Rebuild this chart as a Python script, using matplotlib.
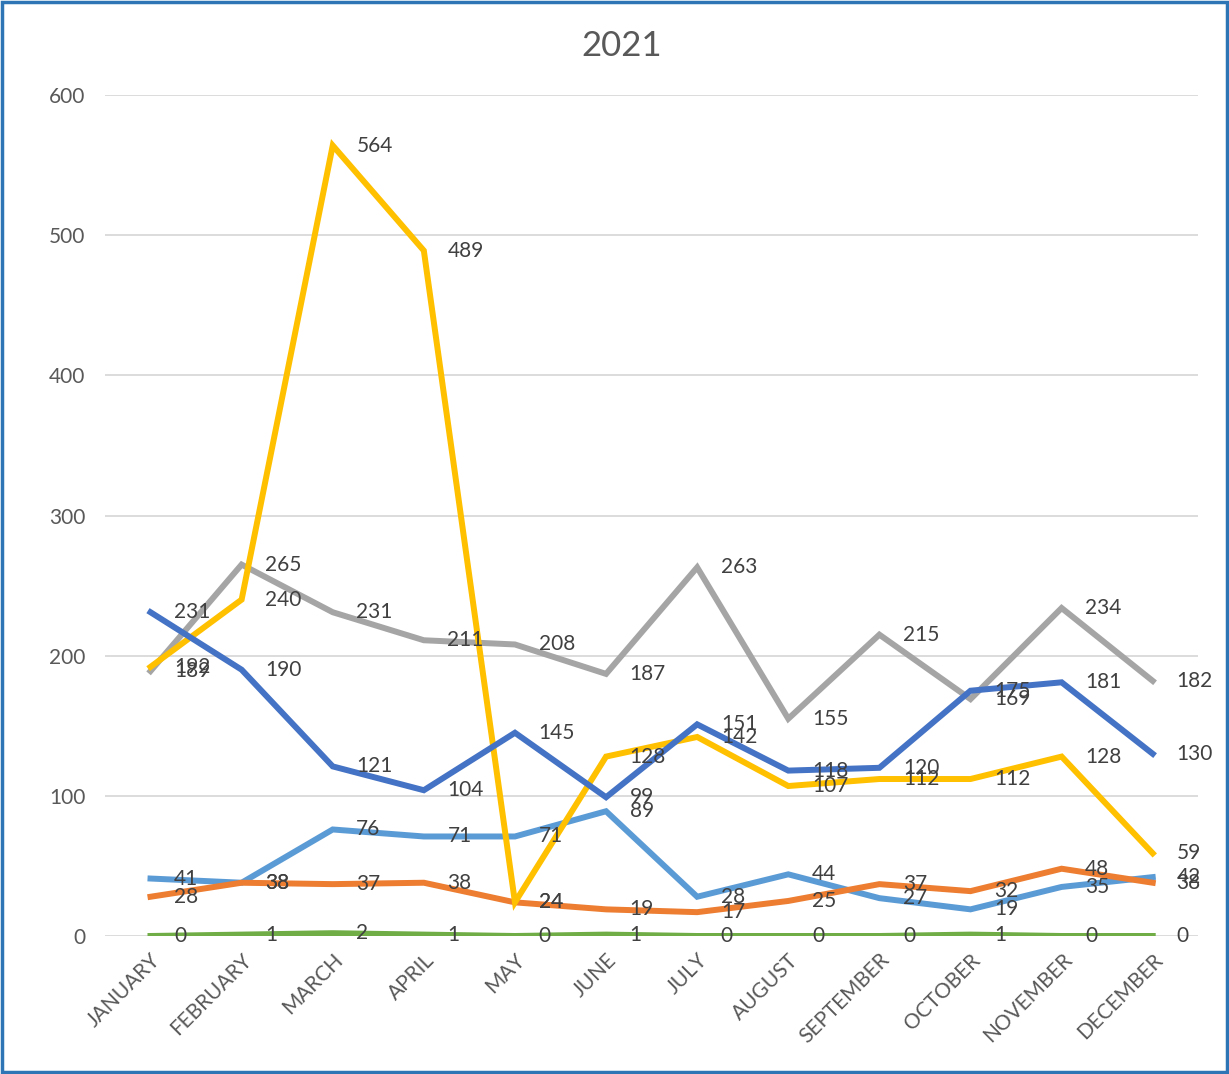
import matplotlib.pyplot as plt
from matplotlib.patches import Rectangle

plt.rcParams['font.family'] = ['Lato', 'DejaVu Sans']

months = ["JANUARY", "FEBRUARY", "MARCH", "APRIL", "MAY", "JUNE", "JULY",
          "AUGUST", "SEPTEMBER", "OCTOBER", "NOVEMBER", "DECEMBER"]

# Series values
light_blue = [41, 38, 76, 71, 71, 89, 28, 44, 27, 19, 35, 42]
orange = [28, 38, 37, 38, 24, 19, 17, 25, 37, 32, 48, 38]
gray = [189, 265, 231, 211, 208, 187, 263, 155, 215, 169, 234, 182]
yellow = [192, 240, 564, 489, 24, 128, 142, 107, 112, 112, 128, 59]
dark_blue = [231, 190, 121, 104, 145, 99, 151, 118, 120, 175, 181, 130]
green = [0, 1, 2, 1, 0, 1, 0, 0, 0, 1, 0, 0]

series = [
    (light_blue, "#5B9BD5"),
    (orange, "#ED7D31"),
    (gray, "#A5A5A5"),
    (yellow, "#FFC000"),
    (dark_blue, "#4472C4"),
    (green, "#70AD47"),
]

fig = plt.figure(figsize=(12.29, 10.74), dpi=100)
ax = fig.add_axes([0.0854, 0.1285, 0.8896, 0.783])

x = list(range(len(months)))
for vals, col in series:
    ax.plot(x, vals, color=col, linewidth=4.3, solid_joinstyle="miter")
    for xi, v in zip(x, vals):
        ax.annotate(str(v), (xi, v), xytext=(17, 0), textcoords="offset points",
                    ha="left", va="center", fontsize=15, color="#404040")

ax.set_xlim(-0.5, 11.5)
ax.set_ylim(0, 600)
ax.set_yticks(range(0, 601, 100))
ax.set_xticks(x)
ax.set_xticklabels(months, rotation=45, ha="right", va="top",
                   rotation_mode="anchor", fontsize=15, color="#595959")
ax.tick_params(axis="y", labelsize=15, labelcolor="#595959", length=0, pad=14)
ax.tick_params(axis="x", length=0, pad=10)
ax.grid(axis="y", color="#D9D9D9", linewidth=1.3)
ax.set_axisbelow(True)
for s in ax.spines.values():
    s.set_visible(False)

fig.text(0.506, 0.957, "2021", fontsize=25, color="#595959", ha="center", va="center")

fig.patches.append(Rectangle((0.002, 0.002), 0.996, 0.996, transform=fig.transFigure,
                             fill=False, edgecolor="#2E75B6", linewidth=2.5))

fig.savefig("out.png", dpi=100)
